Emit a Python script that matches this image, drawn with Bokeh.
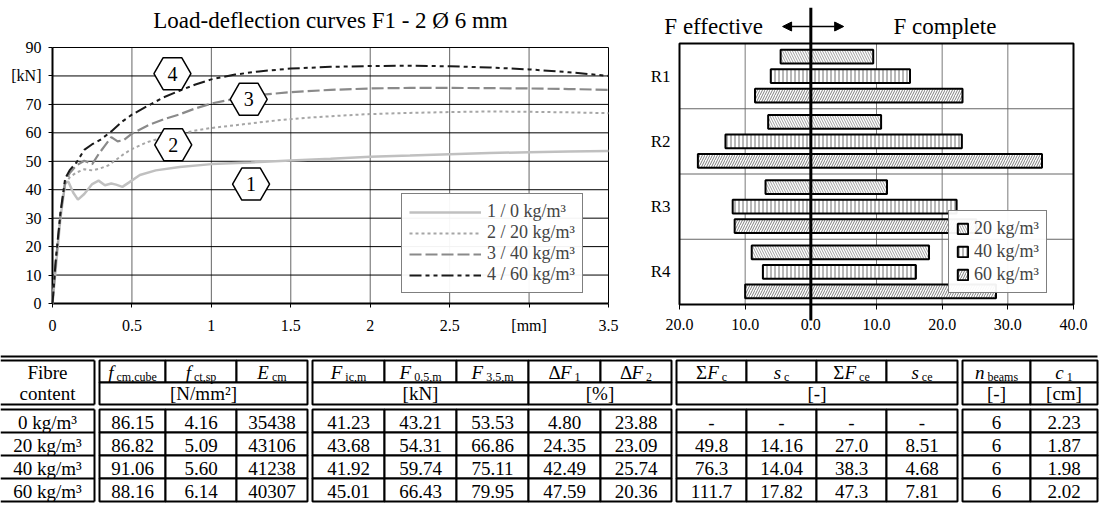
from bokeh.plotting import figure
from bokeh.models import (Range1d, FixedTicker, Legend, LegendItem, Label, Arrow,
                          NormalHead, ColumnDataSource)
from bokeh.layouts import column, row
from bokeh.embed import file_html
from bokeh.resources import INLINE
from bokeh.core.properties import value

FONT = "Liberation Serif"

# ---------------- load-deflection curves (deflection [mm], load [kN]) ----------------
defl_1 = [0, 0.02, 0.05, 0.08, 0.1, 0.13, 0.16, 0.2, 0.25, 0.29, 0.33, 0.37, 0.4, 0.44,
          0.48, 0.55, 0.65, 0.8, 1.0, 1.25, 1.5, 1.75, 2.0, 2.25, 2.5, 2.75, 3.0, 3.25, 3.5]
load_1 = [0, 12, 30, 42.5, 42.8, 39, 36.5, 38.5, 42, 43.2, 41.6, 42.2, 41.8, 41,
          42.5, 45.2, 46.8, 48.0, 49.0, 49.6, 50.3, 50.9, 51.6, 52.0, 52.5, 52.9, 53.2, 53.4, 53.6]
defl_2 = [0, 0.02, 0.05, 0.08, 0.11, 0.15, 0.2, 0.25, 0.3, 0.35, 0.4, 0.45, 0.5, 0.6, 0.7,
          0.8, 0.9, 1.0, 1.2, 1.4, 1.6, 1.8, 2.0, 2.25, 2.5, 2.75, 3.0, 3.25, 3.5]
load_2 = [0, 14, 31, 42, 44.5, 46, 47.2, 46.8, 47.5, 48.5, 50.5, 52.6, 54.3, 56.8, 58.4,
          59.7, 60.8, 61.7, 63.0, 64.3, 65.3, 66.0, 66.6, 67.0, 67.3, 67.5, 67.4, 67.2, 66.9]
defl_3 = [0, 0.02, 0.05, 0.08, 0.11, 0.15, 0.2, 0.25, 0.29, 0.33, 0.37, 0.41, 0.45, 0.5,
          0.6, 0.7, 0.8, 0.9, 1.0, 1.15, 1.3, 1.5, 1.75, 2.0, 2.25, 2.5, 2.75, 3.0, 3.25, 3.5]
load_3 = [0, 14, 31, 43, 46, 48.5, 50.2, 49, 52.5, 55.5, 58.5, 57, 57.5, 59.7,
          62.6, 64.8, 66.5, 68.6, 70.3, 72, 73.3, 74.3, 75.1, 75.6, 75.8, 75.8, 75.7, 75.6, 75.4, 75.1]
defl_4 = [0, 0.02, 0.05, 0.08, 0.11, 0.15, 0.2, 0.25, 0.3, 0.37, 0.44, 0.5, 0.6, 0.7,
          0.8, 0.9, 1.0, 1.15, 1.3, 1.5, 1.75, 2.0, 2.25, 2.5, 2.75, 3.0, 3.25, 3.5]
load_4 = [0, 15, 32, 44, 47, 49.5, 54, 56, 57.5, 60.5, 64, 66.4, 69.5, 72.5,
          74.8, 77, 78.8, 80.5, 81.6, 82.6, 83.2, 83.5, 83.6, 83.4, 83.0, 82.3, 81.3, 80.0]
curve_labels = ["1 / 0 kg/m³", "2 / 20 kg/m³", "3 / 40 kg/m³", "4 / 60 kg/m³"]
curve_ids = ["1", "2", "3", "4"]
x_ticks = [0, 0.5, 1, 1.5, 2, 2.5, 3, 3.5]
x_tick_labels = ["0", "0.5", "1", "1.5", "2", "2.5", "[mm]", "3.5"]
y_ticks = [0, 10, 20, 30, 40, 50, 60, 70, 80, 90]
y_tick_labels = ["0", "10", "20", "30", "40", "50", "60", "70", "[kN]", "90"]

# ---------------- crack force bars ----------------
regions = ["R1", "R2", "R3", "R4"]
bar_series = ["20 kg/m³", "40 kg/m³", "60 kg/m³"]
f_complete_20 = [9.5, 10.7, 11.6, 18.0]
f_effective_20 = [4.6, 6.5, 6.9, 9.0]
f_complete_40 = [15.1, 23.0, 22.2, 16.0]
f_effective_40 = [6.1, 13.0, 11.9, 7.3]
f_complete_60 = [23.1, 35.2, 25.2, 28.2]
f_effective_60 = [8.5, 17.2, 11.6, 10.0]
bar_x_ticks = [-20, -10, 0, 10, 20, 30, 40]
bar_x_tick_labels = ["20.0", "10.0", "0.0", "10.0", "20.0", "30.0", "40.0"]

# ---------------- table ----------------
fibre_content = ["0 kg/m³", "20 kg/m³", "40 kg/m³", "60 kg/m³"]
f_cm_cube = ["86.15", "86.82", "91.06", "88.16"]
f_ct_sp = ["4.16", "5.09", "5.60", "6.14"]
E_cm = ["35438", "43106", "41238", "40307"]
F_ic_m = ["41.23", "43.68", "41.92", "45.01"]
F_05_m = ["43.21", "54.31", "59.74", "66.43"]
F_35_m = ["53.53", "66.86", "75.11", "79.95"]
dF_1 = ["4.80", "24.35", "42.49", "47.59"]
dF_2 = ["23.88", "23.09", "25.74", "20.36"]
sum_F_c = ["-", "49.8", "76.3", "111.7"]
s_c = ["-", "14.16", "14.04", "17.82"]
sum_F_ce = ["-", "27.0", "38.3", "47.3"]
s_ce = ["-", "8.51", "4.68", "7.81"]
n_beams = ["6", "6", "6", "6"]
c_1 = ["2.23", "1.87", "1.98", "2.02"]

# Both top panels share the same vertical frame so that row alignment does not
# disturb them; axes and boxes are placed inside the frames.
FIG_H = 345
FR_TOP, FR_BOT = 7, 342

# =============== left chart ===============
P1_W = 640
L_BOX_LEFT, L_BOX_RIGHT = 52, 608         # px of the 0..3.5 mm box
L_BOX_TOP, L_BOX_BOT = 47, 303            # px of the 0..90 kN box
L_FR_LEFT, L_FR_RIGHT = 3, 628
L_PPX = (L_BOX_RIGHT - L_BOX_LEFT) / (x_ticks[-1] - x_ticks[0])
L_PPU = (L_BOX_BOT - L_BOX_TOP) / (y_ticks[-1] - y_ticks[0])
p1 = figure(width=P1_W, height=FIG_H,
            x_range=Range1d(x_ticks[0] - (L_BOX_LEFT - L_FR_LEFT) / L_PPX,
                            x_ticks[-1] + (L_FR_RIGHT - L_BOX_RIGHT) / L_PPX),
            y_range=Range1d(y_ticks[0] - (FR_BOT - L_BOX_BOT) / L_PPU,
                            y_ticks[-1] + (L_BOX_TOP - FR_TOP) / L_PPU),
            output_backend="svg", toolbar_location=None,
            min_border_left=L_FR_LEFT, min_border_right=P1_W - L_FR_RIGHT,
            min_border_top=FR_TOP, min_border_bottom=FIG_H - FR_BOT)
p1.outline_line_color = None
p1.xaxis.ticker = FixedTicker(ticks=x_ticks)
p1.xaxis.major_label_overrides = dict(zip(x_ticks, x_tick_labels))
p1.xaxis.fixed_location = y_ticks[0]
p1.yaxis.ticker = FixedTicker(ticks=y_ticks)
p1.yaxis.major_label_overrides = dict(zip(y_ticks, y_tick_labels))
p1.yaxis.fixed_location = x_ticks[0]
for ax in (p1.xaxis[0], p1.yaxis[0]):
    ax.axis_line_color = None
    ax.major_tick_in = 0
    ax.major_tick_out = 4
    ax.major_tick_line_color = "black"
    ax.minor_tick_line_color = None
    ax.major_label_text_font = FONT
    ax.major_label_text_font_size = "16px"
    ax.major_label_text_color = "black"
p1.xaxis.major_label_standoff = 9
p1.yaxis.major_label_standoff = 7
p1.xgrid.visible = False
p1.ygrid.visible = False

X0, X1, Y0, Y1 = x_ticks[0], x_ticks[-1], y_ticks[0], y_ticks[-1]
inner_x = [t for t in x_ticks if X0 < t < X1]
p1.segment(x0=inner_x, y0=[Y0] * len(inner_x), x1=inner_x, y1=[Y1] * len(inner_x),
           line_color="#666666", line_width=1)
inner_y = [t for t in y_ticks if Y0 < t < Y1]
p1.segment(x0=[X0] * len(inner_y), y0=inner_y, x1=[X1] * len(inner_y), y1=inner_y,
           line_color="black", line_width=1)
# box: thin top/right, thick left/bottom axes
p1.segment(x0=[X0, X1], y0=[Y1, Y0], x1=[X1, X1], y1=[Y1, Y1], line_color="black", line_width=1)
p1.segment(x0=[X0, X0], y0=[Y0, Y0], x1=[X0, X1], y1=[Y1, Y0], line_color="black", line_width=2)

curve_styles = [
    dict(line_color="#c0c0c0", line_width=2.5, line_dash="solid"),
    dict(line_color="#a6a6a6", line_width=2, line_dash="3 3"),
    dict(line_color="#8a8a8a", line_width=2.2, line_dash="12 4"),
    dict(line_color="#1a1a1a", line_width=2, line_dash="12 4 4 4 4 4"),
]
curves = [(defl_1, load_1), (defl_2, load_2), (defl_3, load_3), (defl_4, load_4)]
line_renderers = []
for (xs, ys), st in zip(curves, curve_styles):
    line_renderers.append(p1.line(xs, ys, **st))

# numbered hexagon tags (annotation placement)
hex_pos_x = [1.25, 0.76, 1.235, 0.755]
hex_pos_y = [42.0, 55.8, 71.8, 80.8]
hsrc = ColumnDataSource(dict(x=hex_pos_x, y=hex_pos_y, t=curve_ids))
p1.scatter("x", "y", source=hsrc, marker="hex", size=37, fill_color="white",
           line_color="black", line_width=1.5)
p1.text("x", "y", text="t", source=hsrc, text_align="center", text_baseline="middle",
        text_font=value(FONT), text_font_size="20px", text_color="black")

leg1 = Legend(items=[LegendItem(label=l, renderers=[r]) for l, r in zip(curve_labels, line_renderers)],
              location=(401 - L_FR_LEFT, FR_BOT - 293))
leg1.border_line_color = "black"
leg1.border_line_width = 1
leg1.label_text_font = FONT
leg1.label_text_font_size = "18px"
leg1.glyph_width = 72
leg1.glyph_height = 18
leg1.label_height = 18
leg1.spacing = 0
leg1.padding = 7
leg1.label_standoff = 6
leg1.margin = 0
p1.add_layout(leg1)

p1.add_layout(Label(x=(X0 + X1) / 2, y=Y1 + (L_BOX_TOP - 20) / L_PPU,
                    text="Load-deflection curves F1 - 2 Ø 6 mm",
                    text_font=FONT, text_font_size="23px", text_align="center",
                    text_baseline="middle", text_color="black"))

# =============== right chart ===============
P2_W = 1099 - P1_W
R_BOX_LEFT, R_BOX_RIGHT = 679, 1073       # px (page) of the -20..40 scale
R_BOX_TOP, R_BOX_BOT = 43, 304            # px of the four regions
R_FR_LEFT, R_FR_RIGHT = P1_W, 1092
PPX = (R_BOX_RIGHT - R_BOX_LEFT) / (bar_x_ticks[-1] - bar_x_ticks[0])
PPU = (R_BOX_BOT - R_BOX_TOP) / len(regions)
p2 = figure(width=P2_W, height=FIG_H,
            x_range=Range1d(bar_x_ticks[0] - (R_BOX_LEFT - R_FR_LEFT) / PPX,
                            bar_x_ticks[-1] + (R_FR_RIGHT - R_BOX_RIGHT) / PPX),
            y_range=Range1d(-(FR_BOT - R_BOX_BOT) / PPU, len(regions) + (R_BOX_TOP - FR_TOP) / PPU),
            output_backend="svg", toolbar_location=None,
            min_border_left=R_FR_LEFT - P1_W, min_border_right=P1_W + P2_W - R_FR_RIGHT,
            min_border_top=FR_TOP, min_border_bottom=FIG_H - FR_BOT)
p2.outline_line_color = None
p2.xgrid.visible = False
p2.ygrid.visible = False
region_centers = [len(regions) - i - 0.5 for i in range(len(regions))]
p2.xaxis.ticker = FixedTicker(ticks=bar_x_ticks)
p2.xaxis.major_label_overrides = dict(zip(bar_x_ticks, bar_x_tick_labels))
p2.xaxis.fixed_location = 0
p2.yaxis.ticker = FixedTicker(ticks=region_centers)
p2.yaxis.major_label_overrides = dict(zip(region_centers, regions))
p2.yaxis.fixed_location = bar_x_ticks[0]
for ax in (p2.xaxis[0], p2.yaxis[0]):
    ax.axis_line_color = None
    ax.major_tick_in = 0
    ax.minor_tick_line_color = None
    ax.major_tick_line_color = "black"
    ax.major_label_text_font = FONT
    ax.major_label_text_color = "black"
p2.xaxis.major_tick_out = 5
p2.xaxis.major_label_standoff = 9
p2.xaxis.major_label_text_font_size = "16px"
p2.yaxis.major_tick_out = 0
p2.yaxis.major_label_standoff = 9
p2.yaxis.major_label_text_font_size = "17px"

BX0, BX1 = bar_x_ticks[0], bar_x_ticks[-1]
inner_bx = [t for t in bar_x_ticks if BX0 < t < BX1]
p2.segment(x0=inner_bx, y0=[0] * len(inner_bx), x1=inner_bx, y1=[len(regions)] * len(inner_bx),
           line_color="#7a7a7a", line_width=1)
bounds = list(range(1, len(regions)))
p2.segment(x0=[BX0] * len(bounds), y0=bounds, x1=[BX1] * len(bounds), y1=bounds,
           line_color="#666666", line_width=1)
p2.quad(left=[BX0], right=[BX1], bottom=[0], top=[len(regions)], fill_color=None,
        line_color="black", line_width=2)

bar_data = [(f_effective_20, f_complete_20), (f_effective_40, f_complete_40),
            (f_effective_60, f_complete_60)]
bar_offsets = [0.3, 0.0, -0.3]
bar_hatch = [dict(hatch_pattern="\\", hatch_color="#a0a0a0", hatch_scale=5),
             dict(hatch_pattern="|", hatch_color="#707070", hatch_scale=4),
             dict(hatch_pattern="/", hatch_color="#808080", hatch_scale=5)]
bar_renderers = []
for (eff, comp), off, hs in zip(bar_data, bar_offsets, bar_hatch):
    src = ColumnDataSource(dict(y=[c + off for c in region_centers],
                                left=[-v for v in eff], right=comp))
    r = p2.hbar(y="y", left="left", right="right", height=0.21, source=src,
                fill_color="white", line_color="black", line_width=2,
                hatch_weight=1, **hs)
    bar_renderers.append(r)

# thick zero line, from the top of the panel to just below the axis
p2.segment(x0=[0], y0=[-16 / PPU], x1=[0], y1=[p2.y_range.end],
           line_color="black", line_width=3)

leg2 = Legend(items=[LegendItem(label=l, renderers=[r]) for l, r in zip(bar_series, bar_renderers)],
              location=(948 - R_FR_LEFT, FR_BOT - 293))
leg2.border_line_color = "black"
leg2.border_line_width = 1
leg2.label_text_font = FONT
leg2.label_text_font_size = "18px"
leg2.glyph_width = 13
leg2.glyph_height = 13
leg2.label_height = 18
leg2.spacing = 2
leg2.padding = 7
leg2.label_standoff = 5
leg2.margin = 0
p2.add_layout(leg2)

# double arrow + labels above the bars
HEAD_Y = len(regions) + (R_BOX_TOP - 26) / PPU
p2.add_layout(Arrow(start=NormalHead(size=9, fill_color="black", line_color="black"),
                    end=NormalHead(size=9, fill_color="black", line_color="black"),
                    x_start=-4.3, y_start=HEAD_Y, x_end=5.0, y_end=HEAD_Y,
                    line_width=1.5, line_color="black"))
p2.add_layout(Label(x=-7.3, y=HEAD_Y, text="F effective", text_font=FONT, text_font_size="23px",
                    text_align="right", text_baseline="middle", text_color="black"))
p2.add_layout(Label(x=12.6, y=HEAD_Y, text="F complete", text_font=FONT, text_font_size="23px",
                    text_align="left", text_baseline="middle", text_color="black"))

# =============== table ===============
TW = 1099
TH = 168
p3 = figure(width=TW, height=TH, x_range=Range1d(0, TW), y_range=Range1d(TH, 0),
            output_backend="svg", toolbar_location=None,
            x_axis_location=None, y_axis_location=None, min_border=0)
p3.grid.visible = False
p3.outline_line_color = None

COL_A = 94
BLOCK_WIDTHS = [[66, 71, 71], [72, 72, 72, 72, 71], [70, 70, 70, 71], [68, 67]]
GAP = 5
TOP = 15
H1 = 22
H2 = 22
VGAP = 5
RH = 23
LW = 2

data_cols = [f_cm_cube, f_ct_sp, E_cm, F_ic_m, F_05_m, F_35_m, dF_1, dF_2,
             sum_F_c, s_c, sum_F_ce, s_ce, n_beams, c_1]
header_pieces = [
    [("f", "italic", 19, 0), ("cm,cube", "normal", 12, 4)],
    [("f", "italic", 19, 0), ("ct,sp", "normal", 12, 4)],
    [("E", "italic", 19, 0), ("cm", "normal", 12, 4)],
    [("F", "italic", 19, 0), ("ic,m", "normal", 12, 4)],
    [("F", "italic", 19, 0), ("0.5,m", "normal", 12, 4)],
    [("F", "italic", 19, 0), ("3.5,m", "normal", 12, 4)],
    [("Δ", "normal", 19, 0), ("F", "italic", 19, 0), ("1", "normal", 12, 4)],
    [("Δ", "normal", 19, 0), ("F", "italic", 19, 0), ("2", "normal", 12, 4)],
    [("Σ", "normal", 19, 0), ("F", "italic", 19, 0), ("c", "normal", 12, 4)],
    [("s", "italic", 19, 0), ("c", "normal", 12, 4)],
    [("Σ", "normal", 19, 0), ("F", "italic", 19, 0), ("ce", "normal", 12, 4)],
    [("s", "italic", 19, 0), ("ce", "normal", 12, 4)],
    [("n", "italic", 19, 0), ("beams", "normal", 12, 4)],
    [("c", "italic", 19, 0), ("1", "normal", 12, 4)],
]
unit_spans = [[(0, 3, "[N/mm²]")], [(0, 3, "[kN]"), (3, 5, "[%]")], [(0, 4, "[-]")],
              [(0, 1, "[-]"), (1, 2, "[cm]")]]

EM = {"0": .5, "1": .5, "2": .5, "3": .5, "4": .5, "5": .5, "6": .5, "7": .5, "8": .5, "9": .5,
      ".": .25, ",": .25, "a": .444, "b": .5, "c": .444, "e": .444, "i": .278, "m": .778,
      "n": .5, "p": .5, "s": .389, "t": .278, "u": .5, "f": .278, "E": .611, "F": .611,
      "Δ": .612, "Σ": .59}

def tw(s, size):
    return sum(EM.get(ch, .5) for ch in s) * size

quads = dict(left=[], right=[], top=[], bottom=[])
def cell(l, r, t, b):
    quads["left"].append(l); quads["right"].append(r)
    quads["top"].append(t); quads["bottom"].append(b)

texts = {}
def put(x, y, s, style="normal", size=19, align="center"):
    key = (style, size, align)
    d = texts.setdefault(key, dict(x=[], y=[], t=[]))
    d["x"].append(x); d["y"].append(y); d["t"].append(s)

def put_rich(cx, cy, pieces):
    widths = [tw(p[0], p[2]) for p in pieces]
    gaps = [3 if p[2] < 19 else 0 for p in pieces[1:]]
    total = sum(widths) + sum(gaps)
    x = cx - total / 2
    for i, (s, style, size, dy) in enumerate(pieces):
        if i > 0:
            x += gaps[i - 1]
        put(x, cy + dy, s, style, size, "left")
        x += widths[i]

h_bot = TOP + H1 + H2
d_top = h_bot + VGAP
n_rows = len(fibre_content)
d_bot = d_top + n_rows * RH

seg = dict(x0=[], y0=[], x1=[], y1=[])
def line(x0, y0, x1, y1):
    seg["x0"].append(x0); seg["y0"].append(y0); seg["x1"].append(x1); seg["y1"].append(y1)

# block A (fibre content): horizontal rules + right border
for yy in [TOP, h_bot, d_top] + [d_top + (k + 1) * RH for k in range(n_rows)]:
    line(0, yy, COL_A, yy)
line(COL_A, TOP, COL_A, h_bot)
line(COL_A, d_top, COL_A, d_bot)
put(COL_A / 2, TOP + H1 / 2 + 1, "Fibre")
put(COL_A / 2, TOP + H1 + H2 / 2, "content")
for k, s in enumerate(fibre_content):
    put(COL_A / 2, d_top + k * RH + RH / 2 + 1, s)

x = COL_A + GAP
ci = 0
for bw, spans in zip(BLOCK_WIDTHS, unit_spans):
    lefts = []
    for w in bw:
        lefts.append(x)
        x += w
    rights = lefts[1:] + [x]
    for j in range(len(bw)):
        cell(lefts[j], rights[j], TOP, TOP + H1)
        put_rich((lefts[j] + rights[j]) / 2, TOP + H1 / 2 + 1, header_pieces[ci + j])
        for k in range(n_rows):
            cell(lefts[j], rights[j], d_top + k * RH, d_top + (k + 1) * RH)
            put((lefts[j] + rights[j]) / 2, d_top + k * RH + RH / 2 + 1, data_cols[ci + j][k])
    for a, b, s in spans:
        cell(lefts[a], rights[b - 1], TOP + H1, h_bot)
        put((lefts[a] + rights[b - 1]) / 2, TOP + H1 + H2 / 2, s)
    ci += len(bw)
    x += GAP
table_right = x - GAP
line(0, TOP - 4, table_right, TOP - 4)

p3.quad(left="left", right="right", top="top", bottom="bottom", source=ColumnDataSource(quads),
         fill_color="white", line_color="black", line_width=LW)
p3.segment("x0", "y0", "x1", "y1", source=ColumnDataSource(seg), line_color="black", line_width=LW)
for (style, size, align), d in texts.items():
    p3.text("x", "y", text="t", source=ColumnDataSource(d), text_align=align,
            text_baseline="middle", text_font=value(FONT), text_font_size=f"{size}px",
            text_font_style=style, text_color="black")

layout = column(row(p1, p2), p3)
open("out.html", "w").write(file_html(layout, INLINE))
